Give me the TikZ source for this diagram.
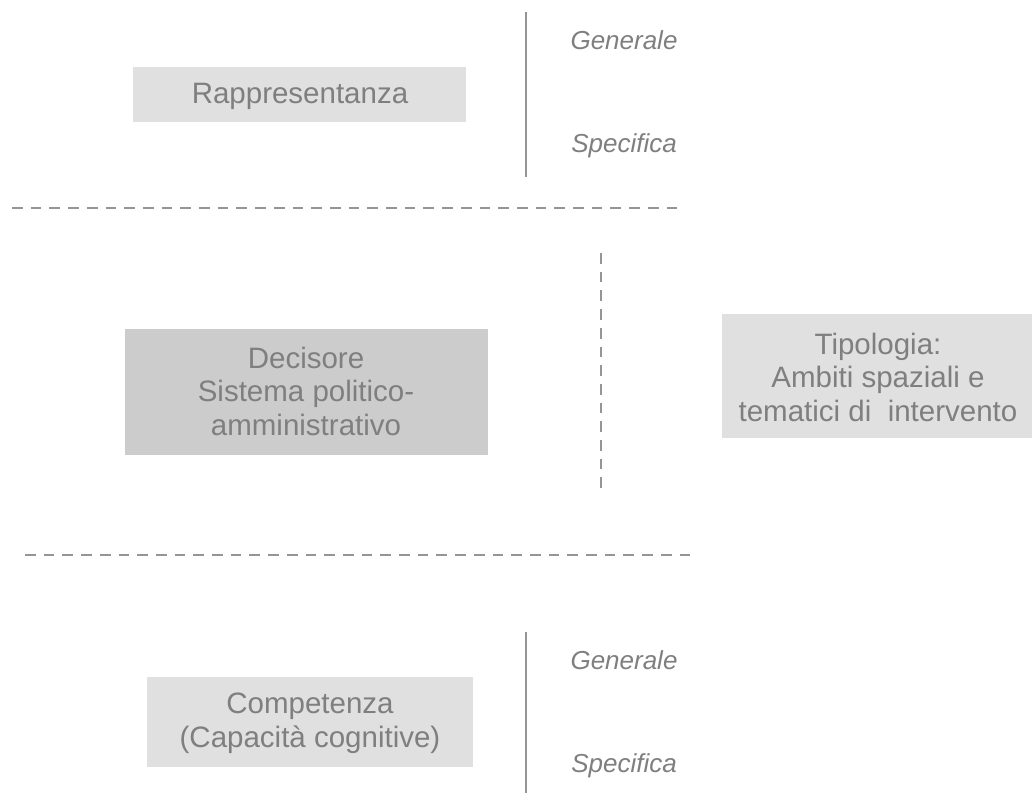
\documentclass[tikz,border=0pt]{standalone}
\usepackage{fontspec}
\setmainfont{Liberation Sans}
\begin{document}
\begin{tikzpicture}[x=1pt,y=-1pt,
  txt/.style={text=textgray, font=\fontsize{29.5}{33.5}\selectfont, align=center, inner sep=0pt},
  lightbox/.style={fill=boxlight, draw=none},
  darkbox/.style={fill=boxdark, draw=none},
  sublabel/.style={text=textgray, font=\fontsize{26}{30}\selectfont\itshape, inner sep=0pt},
  divider/.style={draw=linegray, line width=2.6pt, dash pattern=on 10.7pt off 8pt},
  bar/.style={draw=linegray, line width=2.4pt}]
\definecolor{textgray}{HTML}{7F7F7F}
\definecolor{boxlight}{HTML}{E0E0E0}
\definecolor{boxdark}{HTML}{CCCCCC}
\definecolor{linegray}{HTML}{959595}
\useasboundingbox (0,0) rectangle (1032,793);

% boxes
\fill[lightbox] (133,67) rectangle (466,122);
\fill[darkbox] (125,329) rectangle (488,455);
\fill[lightbox] (722,314) rectangle (1032,438);
\fill[lightbox] (147,677) rectangle (473,767);

% box texts
\node[txt] (rapp) at (300,96) {Rappresentanza};
\node[txt] (dec) at (306,391) {Decisore\\Sistema politico-\\amministrativo};
\node[txt] (tip) at (878,377) {Tipologia:\\Ambiti spaziali e\\tematici di\ \ intervento};
\node[txt] (comp) at (310,723) {Competenza\\(Capacità cognitive)};

% side labels
\node[sublabel] (gen1) at (624,40) {Generale};
\node[sublabel] (spe1) at (624,146) {Specifica};
\node[sublabel] (gen2) at (624,660) {Generale};
\node[sublabel] (spe2) at (624,766) {Specifica};

% vertical bars
\coordinate (b1t) at (526,12);
\coordinate (b1b) at (526,177);
\coordinate (b2t) at (526,632);
\coordinate (b2b) at (526,793);
\draw[bar] (b1t) -- (b1b);
\draw[bar] (b2t) -- (b2b);

% dashed dividers
\coordinate (d1a) at (12,208);
\coordinate (d1b) at (680,208);
\coordinate (d2a) at (25,555);
\coordinate (d2b) at (692,555);
\coordinate (d3a) at (601,253);
\coordinate (d3b) at (601,490);
\draw[divider] (d1a) -- (d1b);
\draw[divider] (d2a) -- (d2b);
\draw[divider] (d3a) -- (d3b);
\end{tikzpicture}
\end{document}
